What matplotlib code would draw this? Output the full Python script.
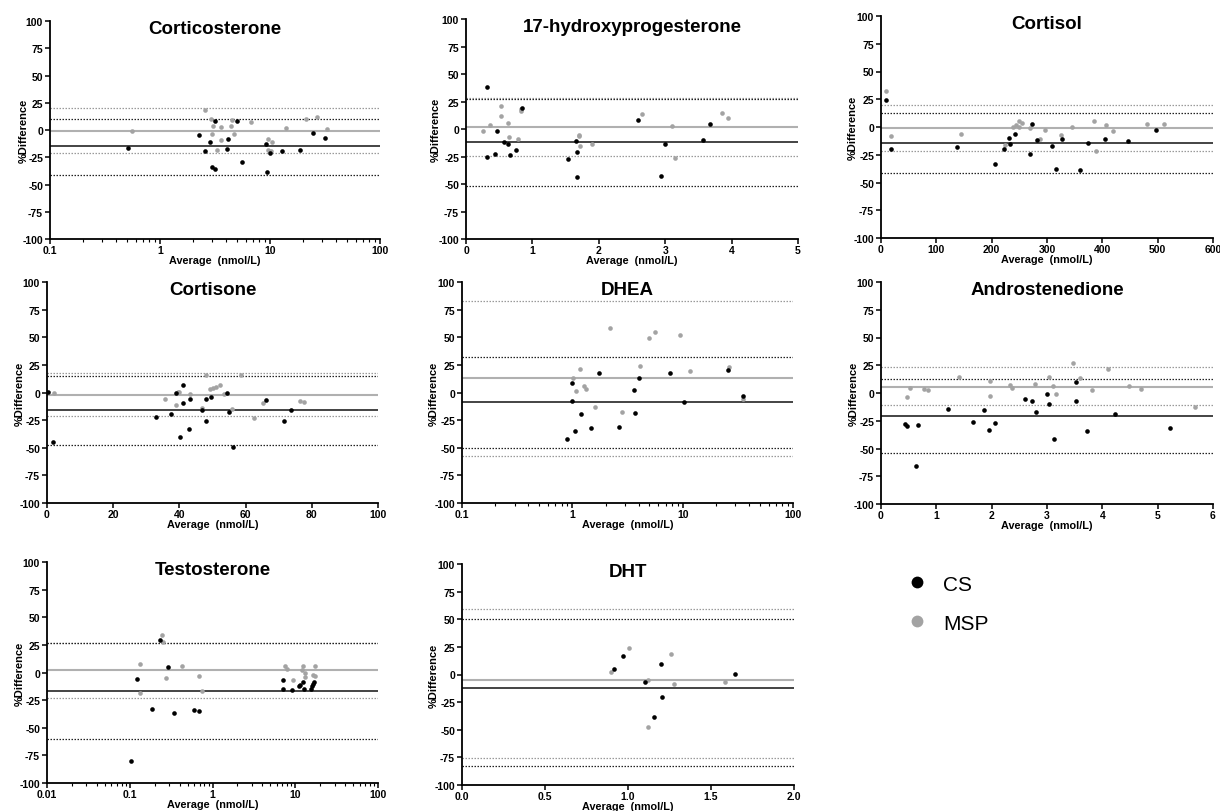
import matplotlib
matplotlib.use("Agg")
import matplotlib.pyplot as plt
from matplotlib.lines import Line2D
from matplotlib.ticker import FixedLocator, LogLocator, NullFormatter, NullLocator

plt.rcParams['font.family'] = ['Liberation Sans', 'DejaVu Sans']

# ---------------- data ----------------
titles = ["Corticosterone", "17-hydroxyprogesterone", "Cortisol", "Cortisone",
          "DHEA", "Androstenedione", "Testosterone", "DHT"]
series_labels = ["CS", "MSP"]

# Corticosterone
cort_cs_x = [0.515, 2.28, 2.54, 2.87, 3.13, 2.97, 3.18, 4.09, 4.12, 5.01, 5.56, 9.27, 9.3, 10.0, 12.8, 18.6, 24.8, 31.4]
cort_cs_y = [-16.6, -4.4, -19.4, -10.8, 7.8, -34.4, -35.6, -17.3, -8.4, 8.1, -29.5, -12.7, -38.3, -20.9, -19.7, -18.8, -3.2, -7.5]
cort_msp_x = [0.556, 2.55, 2.89, 3.05, 2.97, 3.28, 3.56, 3.56, 4.39, 4.5, 4.74, 6.67, 9.5, 9.6, 10.2, 10.5, 13.97, 21.4, 26.7, 32.7]
cort_msp_y = [-1, 18.2, 10.5, 3.8, -3.8, -18.5, -9.3, 2.3, 4.1, 9.3, -3.8, 6.9, -8.7, -17.9, -19.7, -10.8, 1.4, 10.5, 11.5, 0.5]

# 17-hydroxyprogesterone
ohp_cs_x = [0.316, 0.32, 0.47, 0.44, 0.577, 0.627, 0.662, 0.752, 0.842, 1.535, 1.66, 1.67, 1.67, 2.583, 2.944, 2.999, 3.571, 3.671]
ohp_cs_y = [37.9, -25.8, -1.8, -22.4, -12.1, -13.3, -23.6, -18.8, 19.1, -27.3, -11.2, -20.6, -43.3, 8.2, -43, -13.6, -9.7, 4.8]
ohp_msp_x = [0.25, 0.36, 0.527, 0.52, 0.627, 0.647, 0.787, 0.822, 0.827, 1.7, 1.7, 1.715, 1.896, 2.653, 3.104, 3.154, 3.857, 3.947]
ohp_msp_y = [-1.5, 3.3, 21.2, 11.8, 5.8, -7, -9.1, 18.5, 16.1, -5.2, -6.1, -15.5, -13.3, 13.3, 2.4, -26.7, 14.8, 10.3]

# Cortisol
cortisol_cs_x = [9, 18, 136.6, 205.2, 221.5, 231, 232.3, 241.3, 269.6, 273.2, 282.8, 309.3, 316.5, 328, 360.5, 374.9, 404.4, 447.1, 497.1]
cortisol_cs_y = [24.4, -19.6, -17.8, -33.4, -19.9, -10, -15.4, -6.7, -24.4, 2.8, -11.5, -16.9, -37.6, -10.6, -38.8, -14.5, -11.2, -12.7, -2.8]
cortisol_msp_x = [9.6, 18.7, 145, 224.5, 239, 244.3, 249.7, 249.7, 255, 268.4, 287, 296, 324.4, 346, 385.7, 388.2, 406.8, 419.5, 481.4, 511.5]
cortisol_msp_y = [32.5, -7.9, -6.1, -16, 0.15, 2.2, 5.8, -0.45, 3.7, -0.75, -10.9, -2.5, -7, -0.15, 5, -21.4, 1.65, -3.4, 2.5, 3.1]

# Cortisone
cortisone_cs_x = [0.2, 1.7, 32.8, 37.6, 38.9, 40.3, 41.2, 41.2, 43.3, 42.9, 46.9, 47.9, 47.9, 49.6, 54.3, 55.1, 56.1, 66.1, 71.6, 73.8]
cortisone_cs_y = [0.15, -45, -21.8, -19.7, -0.9, -40.4, 6.6, -9.7, -5.8, -32.7, -15.8, -5.8, -25.8, -4.5, 0.0, -17.3, -49.7, -6.8, -25.4, -15.5]
cortisone_msp_x = [2.0, 35.5, 39.1, 39.5, 39.9, 43.1, 46.9, 47.9, 49.3, 50.3, 51.2, 52.3, 53.6, 55.8, 58.7, 62.5, 65.3, 76.4, 77.6]
cortisone_msp_y = [0, -6, -11.5, 0.5, 0.7, -1.2, -14.3, 15.8, 3.6, 4.0, 4.6, 6.4, -1.35, -14.5, 15.8, -22.7, -9.8, -8, -8.3]

# DHEA
dhea_cs_x = [0.89, 1.0, 1.0, 1.05, 1.2, 1.49, 1.73, 2.67, 3.65, 3.7, 4.05, 7.7, 10.2, 25.8, 35.5]
dhea_cs_y = [-41.7, 8.9, -7.7, -34.7, -19.1, -31.7, 17.9, -30.8, 2, -18.2, 13.1, 17.6, -8.3, 20.6, -3.2]
dhea_msp_x = [1.024, 1.08, 1.17, 1.28, 1.33, 1.62, 2.21, 2.84, 4.1, 4.98, 5.61, 9.4, 11.7, 26.2, 35.3]
dhea_msp_y = [13.4, 1.65, 20.9, 5.6, 3.2, -12.8, 58.2, -17.9, 24.2, 48.9, 54.9, 51.9, 19.1, 23, -6.2]

# Androstenedione
andro_cs_x = [0.433, 0.463, 0.637, 0.661, 1.215, 1.66, 1.858, 1.948, 2.056, 2.61, 2.73, 2.802, 2.995, 3.043, 3.133, 3.518, 3.524, 3.716, 4.221, 5.225]
andro_cs_y = [-28.1, -29.3, -66, -28.4, -14, -25.7, -14.9, -32.9, -26.9, -5, -6.8, -16.7, -0.75, -9.5, -41, 9.5, -7.4, -34.4, -19.1, -31.1]
andro_msp_x = [0.475, 0.529, 0.776, 0.854, 1.407, 1.978, 1.978, 2.339, 2.375, 2.79, 3.031, 3.115, 3.169, 3.464, 3.602, 3.818, 4.095, 4.48, 4.696, 5.682]
andro_msp_y = [-3.8, 4.4, 3.2, 2.3, 14.6, 11, -2.6, 6.8, 4.4, 8.3, 14.3, 5.9, -1.35, 26.6, 13.7, 2.3, 21.5, 5.9, 3.5, -12.5]

# Testosterone
testo_cs_x = [0.104, 0.124, 0.188, 0.235, 0.288, 0.347, 0.593, 0.694, 7.21, 7.21, 9.1, 11.1, 11.4, 12.4, 12.6, 15.4, 15.9, 16.4, 16.9]
testo_cs_y = [-79.8, -5.6, -33.2, 29.3, 5, -36.8, -33.8, -34.4, -6.5, -14.6, -15.5, -12.2, -11, -8.9, -15.2, -15.2, -12.2, -10.1, -8.9]
testo_msp_x = [0.132, 0.134, 0.244, 0.255, 0.275, 0.425, 0.687, 0.747, 7.62, 7.91, 9.44, 12.0, 12.3, 13.1, 13.3, 16.4, 17.1, 17.1]
testo_msp_y = [7.7, -18.2, 34.1, 27.2, -5, 5.9, -2.9, -17, 6.2, 3.2, -6.5, 2.3, 6.2, -0.45, -4.1, -2, -2.9, 6.2]

# DHT
dht_cs_x = [0.914, 0.968, 1.102, 1.158, 1.2, 1.206, 1.643]
dht_cs_y = [5.3, 16.7, -6.8, -38.6, 9.2, -20, 0.15]
dht_msp_x = [0.9, 1.006, 1.118, 1.12, 1.257, 1.275, 1.585]
dht_msp_y = [2, 23.9, -47.4, -5, 18.8, -8.3, -7.1]

# bias (mean) and limits of agreement per panel
msp_mean = [-0.8, 2.1, -0.6, -2.0, 12.8, 5.0, 2.0, -5.3]
msp_upper = [20.5, 28.0, 19.6, 17.3, 82.6, 23.6, 26.6, 59.4]
msp_lower = [-21.5, -24.2, -21.4, -21.2, -57.8, -11.0, -23.0, -75.6]
cs_mean = [-14.5, -12.1, -14.5, -16.1, -8.9, -20.6, -16.5, -12.5]
cs_upper = [10.0, 27.3, 12.7, 14.6, 31.7, 12.5, 27.0, 50.1]
cs_lower = [-41.4, -51.5, -41.8, -47.4, -50.0, -54.3, -60.0, -82.7]

y_ticks = [-100, -75, -50, -25, 0, 25, 50, 75, 100]

panels_cs = [(cort_cs_x, cort_cs_y), (ohp_cs_x, ohp_cs_y), (cortisol_cs_x, cortisol_cs_y),
             (cortisone_cs_x, cortisone_cs_y), (dhea_cs_x, dhea_cs_y), (andro_cs_x, andro_cs_y),
             (testo_cs_x, testo_cs_y), (dht_cs_x, dht_cs_y)]
panels_msp = [(cort_msp_x, cort_msp_y), (ohp_msp_x, ohp_msp_y), (cortisol_msp_x, cortisol_msp_y),
              (cortisone_msp_x, cortisone_msp_y), (dhea_msp_x, dhea_msp_y), (andro_msp_x, andro_msp_y),
              (testo_msp_x, testo_msp_y), (dht_msp_x, dht_msp_y)]

# x-axis configuration: (scale, xmin, xmax, ticks, tick labels)
x_cfg = [
    ("log", 0.1, 100, [0.1, 1, 10, 100], ["0.1", "1", "10", "100"]),
    ("linear", 0, 5, [0, 1, 2, 3, 4, 5], ["0", "1", "2", "3", "4", "5"]),
    ("linear", 0, 600, [0, 100, 200, 300, 400, 500, 600], ["0", "100", "200", "300", "400", "500", "600"]),
    ("linear", 0, 100, [0, 20, 40, 60, 80, 100], ["0", "20", "40", "60", "80", "100"]),
    ("log", 0.1, 100, [0.1, 1, 10, 100], ["0.1", "1", "10", "100"]),
    ("linear", 0, 6, [0, 1, 2, 3, 4, 5, 6], ["0", "1", "2", "3", "4", "5", "6"]),
    ("log", 0.01, 100, [0.01, 0.1, 1, 10, 100], ["0.01", "0.1", "1", "10", "100"]),
    ("linear", 0, 2, [0, 0.5, 1.0, 1.5, 2.0], ["0.0", "0.5", "1.0", "1.5", "2.0"]),
]

# axes boxes in pixels: left, right, top, bottom
W, H = 1220, 812
boxes = [
    (50, 380, 22, 240), (466, 798, 20, 240), (881, 1213, 17, 239),
    (47, 378, 283, 504), (462, 793, 283, 504), (881, 1213, 283, 505),
    (47, 378, 563, 784), (462, 794, 565, 786),
]
ylabel_offset_px = [-21, -25, -23, -22, -23, -22, -22, -23]

BLACK = "#000000"
GREY = "#a3a3a3"

fig = plt.figure(figsize=(W / 100, H / 100), dpi=100)

for i in range(8):
    l, r, t, b = boxes[i]
    ax = fig.add_axes([l / W, 1 - b / H, (r - l) / W, (b - t) / H])
    scale, x0, x1, xt, xtl = x_cfg[i]
    ax.set_xscale(scale)
    ax.set_xlim(x0, x1)
    ax.set_ylim(-100, 100)

    dot = (0, (1.2, 1.2))
    ax.axhline(msp_upper[i], color="#9a9a9a", lw=0.9, ls=dot, zorder=1)
    ax.axhline(msp_lower[i], color="#9a9a9a", lw=0.9, ls=dot, zorder=1)
    ax.axhline(cs_upper[i], color="#222222", lw=0.9, ls=dot, zorder=1)
    ax.axhline(cs_lower[i], color="#222222", lw=0.9, ls=dot, zorder=1)
    ax.axhline(msp_mean[i], color="#b0b0b0", lw=1.5, zorder=2)
    ax.axhline(cs_mean[i], color="#111111", lw=1.1, zorder=2)

    mx, my = panels_msp[i]
    cx, cy = panels_cs[i]
    ax.scatter(mx, my, s=11, color=GREY, linewidths=0, zorder=3)
    ax.scatter(cx, cy, s=11, color=BLACK, linewidths=0, zorder=4)

    ax.set_yticks(y_ticks)
    ax.set_yticklabels([str(v) for v in y_ticks])
    ax.xaxis.set_major_locator(FixedLocator(xt))
    ax.set_xticklabels(xtl)
    if scale == "log":
        ax.xaxis.set_minor_locator(LogLocator(base=10, subs=range(2, 10)))
        ax.xaxis.set_minor_formatter(NullFormatter())
    else:
        ax.xaxis.set_minor_locator(NullLocator())
    ax.yaxis.set_minor_locator(NullLocator())

    for s in ["top", "right"]:
        ax.spines[s].set_visible(False)
    for s in ["left", "bottom"]:
        ax.spines[s].set_linewidth(1.3)
    ax.tick_params(axis="both", which="major", length=3.5, width=1.1, pad=1.5,
                   labelsize=7.5, direction="out")
    ax.tick_params(axis="x", which="major", pad=1)
    ax.tick_params(axis="x", which="minor", length=2, width=0.8)
    for lab in ax.get_xticklabels() + ax.get_yticklabels():
        lab.set_fontweight("bold")

    ax.set_xlabel("Average  (nmol/L)", fontsize=7.8, fontweight="bold", labelpad=0)
    ax.set_ylabel("%Difference", fontsize=8, fontweight="bold")
    ax.yaxis.set_label_coords(ylabel_offset_px[i] / (r - l), 0.5)
    ax.text(0.5, 1.005, titles[i], transform=ax.transAxes, ha="center", va="top",
            fontsize=13.5, fontweight="bold")

handles = [Line2D([], [], ls="none", marker="o", markersize=8.5, color=BLACK, markeredgewidth=0),
           Line2D([], [], ls="none", marker="o", markersize=8.5, color=GREY, markeredgewidth=0)]
fig.legend(handles, series_labels, loc="upper left", bbox_to_anchor=(883 / W, 1 - 557 / H),
           frameon=False, fontsize=15, handletextpad=0.5, labelspacing=0.95, handlelength=1.5)

fig.savefig("out.png", dpi=100)
